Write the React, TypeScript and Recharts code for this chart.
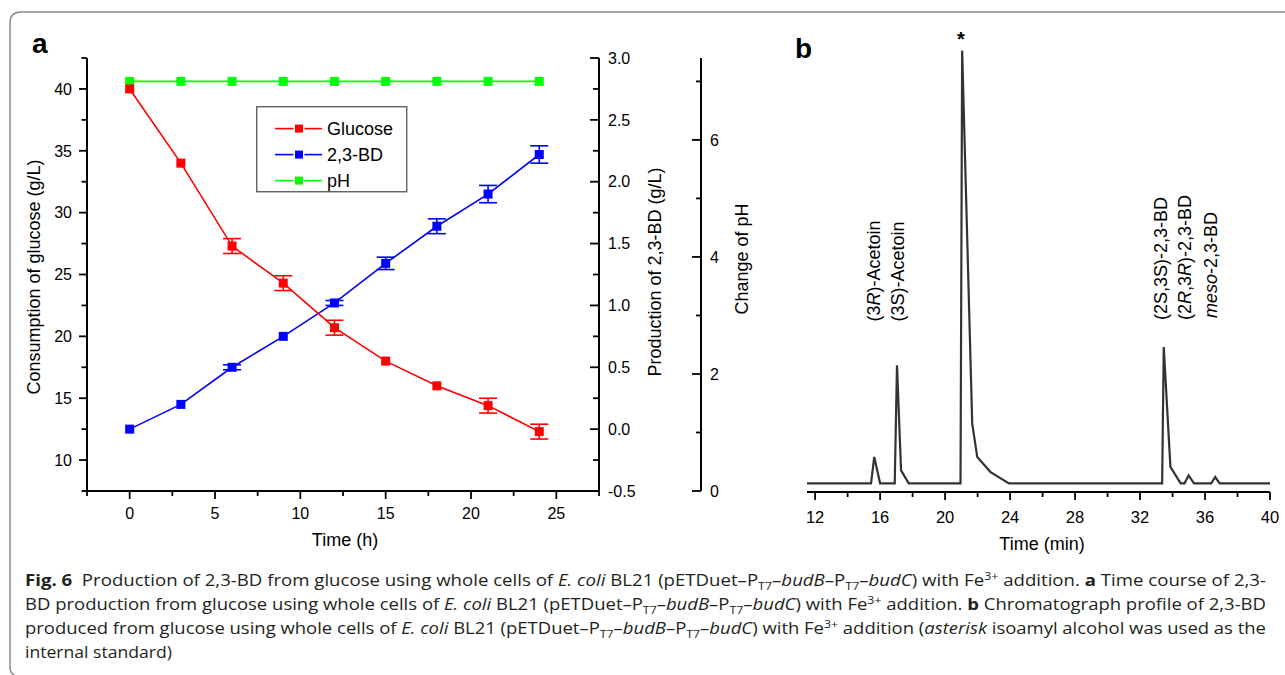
import React from 'react';
import { ComposedChart, LineChart, Line, XAxis, YAxis, ErrorBar, Legend } from 'recharts';

// ---------- Panel a data ----------
const hours = [0, 3, 6, 9, 12, 15, 18, 21, 24];
const glucose = [40.0, 34.0, 27.3, 24.3, 20.7, 18.0, 16.0, 14.4, 12.3];
const glucoseErr = [0, 0, 0.6, 0.6, 0.6, 0, 0, 0.6, 0.6];
const butanediol = [0.0, 0.2, 0.5, 0.75, 1.02, 1.34, 1.64, 1.9, 2.22];
const butanediolErr = [0, 0, 0.02, 0, 0.02, 0.05, 0.06, 0.07, 0.07];
const phValues = [7, 7, 7, 7, 7, 7, 7, 7, 7];

const timeTicks = [-2.5, 0, 2.5, 5, 7.5, 10, 12.5, 15, 17.5, 20, 22.5, 25, 27.5];
const glucoseTicks = [7.5, 10, 12.5, 15, 17.5, 20, 22.5, 25, 27.5, 30, 32.5, 35, 37.5, 40, 42.5];
const bdTicks = [-0.5, -0.25, 0, 0.25, 0.5, 0.75, 1, 1.25, 1.5, 1.75, 2, 2.25, 2.5, 2.75, 3];
const phTicks = [0, 1, 2, 3, 4, 5, 6, 7];

const seriesNames = ['Glucose', '2,3-BD', 'pH'];
const seriesColors = ['#ff0000', '#0000ff', '#00ff00'];

// ---------- Panel b data ----------
const chromTime = [11.5, 15.44, 15.64, 16.0, 16.9, 17.04, 17.29, 17.76, 20.95, 21.05, 21.67, 21.98, 22.8, 23.93, 33.36, 33.46, 33.87, 34.5, 34.74, 34.99, 35.32, 36.38, 36.63, 36.9, 40];
const chromSignal = [0, 0, 6.1, 0, 0, 27.3, 3.0, 0, 0, 100, 13.8, 6.1, 2.6, 0, 0, 31.5, 3.8, 0, 0, 1.85, 0, 0, 1.46, 0, 0];
const minuteTicks = [12, 14, 16, 18, 20, 22, 24, 26, 28, 30, 32, 34, 36, 38, 40];

// ---------- Caption ----------
type Seg = { t: string; k: 'n' | 'i' | 'b' | 'sub' | 'sup' };
const S = (t: string, k: Seg['k'] = 'n'): Seg => ({ t, k });
const construct = [S(' BL21 (pETDuet–P'), S('T7', 'sub'), S('–'), S('budB', 'i'), S('–P'), S('T7', 'sub'), S('–'), S('budC', 'i'), S(') with Fe'), S('3+', 'sup')];
const captionLines: Seg[][] = [
  [S('Fig. 6', 'b'), S('  Production of 2,3-BD from glucose using whole cells of '), S('E. coli', 'i'), ...construct, S(' addition. '), S('a', 'b'), S(' Time course of 2,3-')],
  [S('BD production from glucose using whole cells of '), S('E. coli', 'i'), ...construct, S(' addition. '), S('b', 'b'), S(' Chromatograph profile of 2,3-BD')],
  [S('produced from glucose using whole cells of '), S('E. coli', 'i'), ...construct, S(' addition ('), S('asterisk', 'i'), S(' isoamyl alcohol was used as the')],
  [S('internal standard)')],
];
const captionWidths = [1241, 1241, 1241, 147];

const FONT = '"Liberation Sans", Arial, Helvetica, sans-serif';
const CAP_FONT = '"Open Sans", "Noto Sans", sans-serif';

const rowsA = hours.map((t, i) => ({
  t,
  glucose: glucose[i],
  gErr: glucoseErr[i],
  bd: butanediol[i],
  bErr: butanediolErr[i],
  ph: phValues[i],
}));
const rowsB = chromTime.map((t, i) => ({ t, s: chromSignal[i] }));

const isMult = (v: number, m: number) => Math.abs(v / m - Math.round(v / m)) < 1e-6;

function LeftTick(props: any) {
  const { x, y, payload } = props;
  const v = payload.value;
  const major = isMult(v, 5);
  return (
    <g>
      <line x1={x - (major ? 8 : 5.5)} x2={x} y1={y} y2={y} stroke="#000" strokeWidth={1.8} />
      {major && (
        <text x={x - 15} y={y} dy="0.36em" textAnchor="end" fontSize={16} fontFamily={FONT} fill="#000">
          {v}
        </text>
      )}
    </g>
  );
}

function BdTick(props: any) {
  const { x, y, payload } = props;
  const v = payload.value;
  const major = isMult(v, 0.5);
  return (
    <g>
      <line x1={x - (major ? 9 : 6)} x2={x} y1={y} y2={y} stroke="#000" strokeWidth={1.8} />
      {major && (
        <text x={x + 9} y={y} dy="0.36em" textAnchor="start" fontSize={16} fontFamily={FONT} fill="#000">
          {v.toFixed(1)}
        </text>
      )}
    </g>
  );
}

function PhTick(props: any) {
  const { x, y, payload } = props;
  const v = payload.value;
  const major = isMult(v, 2);
  return (
    <g>
      <line x1={x - (major ? 9 : 5)} x2={x} y1={y} y2={y} stroke="#000" strokeWidth={1.8} />
      {major && (
        <text x={x + 9} y={y} dy="0.36em" textAnchor="start" fontSize={16} fontFamily={FONT} fill="#000">
          {v}
        </text>
      )}
    </g>
  );
}

function TimeTick(props: any) {
  const { x, y, payload } = props;
  const v = payload.value;
  const major = isMult(v, 5);
  return (
    <g>
      <line x1={x} x2={x} y1={y} y2={y + (major ? 8 : 5)} stroke="#000" strokeWidth={1.8} />
      {major && (
        <text x={x} y={y + 28} textAnchor="middle" fontSize={16} fontFamily={FONT} fill="#000">
          {v}
        </text>
      )}
    </g>
  );
}

function MinuteTick(props: any) {
  const { x, y, payload } = props;
  const v = payload.value;
  const major = isMult(v - 12, 4);
  return (
    <g>
      <line x1={x} x2={x} y1={y} y2={y + (major ? 8 : 5)} stroke="#000" strokeWidth={1.8} />
      {major && (
        <text x={x} y={y + 31} textAnchor="middle" fontSize={16.5} fontFamily={FONT} fill="#000">
          {v}
        </text>
      )}
    </g>
  );
}

function AxisTitle(props: any) {
  const { px, py, text, vertical } = props;
  return (
    <text
      x={px}
      y={py}
      transform={vertical ? `rotate(-90 ${px} ${py})` : undefined}
      textAnchor="middle"
      fontSize={18}
      fontFamily={FONT}
      fill="#000"
    >
      {text}
    </text>
  );
}

function squareDot(color: string, prefix: string) {
  return (p: any) => (
    <rect key={`${prefix}${p.index}`} x={p.cx - 4.5} y={p.cy - 4.5} width={9} height={9} fill={color} />
  );
}

function LegendBox() {
  return (
    <svg width={152} height={87} style={{ display: 'block' }}>
      <rect x={0.75} y={0.75} width={150} height={85} fill="#fff" stroke="#555" strokeWidth={1.3} />
      {seriesNames.map((n, i) => {
        const cy = 22.6 + i * 26;
        const c = seriesColors[i];
        return (
          <g key={n}>
            <line x1={19} x2={37.5} y1={cy} y2={cy} stroke={c} strokeWidth={1.6} />
            <line x1={48.5} x2={66} y1={cy} y2={cy} stroke={c} strokeWidth={1.6} />
            <rect x={39} y={cy - 4} width={8} height={8} fill={c} />
            <text x={71} y={cy} dy="0.36em" fontSize={18} fontFamily={FONT} fill="#000">
              {n}
            </text>
          </g>
        );
      })}
    </svg>
  );
}

function renderSegs(segs: Seg[]) {
  let shift = 0;
  return segs.map((s, i) => {
    const target = s.k === 'sub' ? 4 : s.k === 'sup' ? -6 : 0;
    const dy = target - shift;
    shift = target;
    return (
      <tspan
        key={i}
        dy={dy !== 0 ? dy : undefined}
        fontStyle={s.k === 'i' ? 'italic' : undefined}
        fontWeight={s.k === 'b' ? 'bold' : undefined}
        fontSize={s.k === 'sub' || s.k === 'sup' ? 11 : undefined}
      >
        {s.t}
      </tspan>
    );
  });
}

function RotLabel(props: { x: number; y: number; children: React.ReactNode }) {
  return (
    <text
      transform={`translate(${props.x},${props.y}) rotate(-90)`}
      x={0}
      y={0}
      fontSize={18}
      fontFamily={FONT}
      fill="#000"
      style={{ whiteSpace: 'pre' }}
    >
      {props.children}
    </text>
  );
}

export default function App() {
  return (
    <div
      style={{
        position: 'absolute',
        left: 0,
        top: 0,
        width: 1285,
        height: 675,
        background: '#fff',
        overflow: 'hidden',
        fontFamily: FONT,
      }}
    >
      {/* frame + caption */}
      <svg width={1285} height={675} style={{ position: 'absolute', left: 0, top: 0 }}>
        <path
          d="M1285 12 L21 12 Q10 12 10 23 L10 667 Q10 674 16 676"
          fill="none"
          stroke="#8a8a8a"
          strokeWidth={1.5}
        />
        {captionLines.map((segs, i) => (
          <text
            key={i}
            x={25}
            y={586 + i * 24}
            textLength={captionWidths[i]}
            lengthAdjust="spacingAndGlyphs"
            fontSize={16.5}
            fontFamily={CAP_FONT}
            fill="#231f20"
            style={{ whiteSpace: 'pre' }}
          >
            {renderSegs(segs)}
          </text>
        ))}
      </svg>

      {/* panel a */}
      <div style={{ position: 'absolute', left: 0, top: 0 }}>
        <ComposedChart width={780} height={560} data={rowsA} margin={{ top: 58, right: 19, bottom: 39, left: 0 }}>
          <XAxis
            dataKey="t"
            type="number"
            domain={[-2.5, 27.5]}
            ticks={timeTicks}
            interval={0}
            allowDataOverflow
            height={30}
            tickLine={false}
            tickSize={0}
            tickMargin={0}
            tick={<TimeTick />}
            axisLine={{ stroke: '#000', strokeWidth: 2 }}
            label={<AxisTitle px={345} py={546} text="Time (h)" />}
          />
          <YAxis
            yAxisId="g"
            orientation="left"
            type="number"
            domain={[7.5, 42.5]}
            ticks={glucoseTicks}
            interval={0}
            allowDataOverflow
            width={87}
            tickLine={false}
            tickSize={0}
            tickMargin={0}
            tick={<LeftTick />}
            axisLine={{ stroke: '#000', strokeWidth: 2 }}
            label={<AxisTitle px={39.6} py={277} vertical text="Consumption of glucose (g/L)" />}
          />
          <YAxis
            yAxisId="bd"
            orientation="right"
            type="number"
            domain={[-0.5, 3]}
            ticks={bdTicks}
            interval={0}
            allowDataOverflow
            width={102}
            tickLine={false}
            tickSize={0}
            tickMargin={0}
            tick={<BdTick />}
            axisLine={{ stroke: '#000', strokeWidth: 2 }}
            label={<AxisTitle px={661} py={272} vertical text="Production of 2,3-BD (g/L)" />}
          />
          <YAxis
            yAxisId="ph"
            orientation="right"
            type="number"
            domain={[0, 7.4]}
            ticks={phTicks}
            interval={0}
            allowDataOverflow
            width={60}
            tickLine={false}
            tickSize={0}
            tickMargin={0}
            tick={<PhTick />}
            axisLine={{ stroke: '#000', strokeWidth: 2 }}
            label={<AxisTitle px={748} py={259} vertical text="Change of pH" />}
          />
          <Legend
            layout="vertical"
            align="center"
            verticalAlign="middle"
            wrapperStyle={{ left: 256, top: 106, width: 152, height: 87 }}
            content={() => <LegendBox />}
          />
          <Line
            yAxisId="ph"
            dataKey="ph"
            name="pH"
            stroke={seriesColors[2]}
            strokeWidth={1.6}
            type="linear"
            dot={squareDot(seriesColors[2], 'p')}
            isAnimationActive={false}
          />
          <Line
            yAxisId="bd"
            dataKey="bd"
            name="2,3-BD"
            stroke={seriesColors[1]}
            strokeWidth={1.6}
            type="linear"
            dot={squareDot(seriesColors[1], 'b')}
            isAnimationActive={false}
          >
            <ErrorBar dataKey="bErr" width={9} stroke={seriesColors[1]} strokeWidth={1.6} direction="y" isAnimationActive={false} />
          </Line>
          <Line
            yAxisId="g"
            dataKey="glucose"
            name="Glucose"
            stroke={seriesColors[0]}
            strokeWidth={1.6}
            type="linear"
            dot={squareDot(seriesColors[0], 'g')}
            isAnimationActive={false}
          >
            <ErrorBar dataKey="gErr" width={9} stroke={seriesColors[0]} strokeWidth={1.6} direction="y" isAnimationActive={false} />
          </Line>
        </ComposedChart>
      </div>

      {/* panel b */}
      <div style={{ position: 'absolute', left: 780, top: 0 }}>
        <LineChart width={505} height={560} data={rowsB} margin={{ top: 42, right: 15, bottom: 38, left: 27 }}>
          <XAxis
            dataKey="t"
            type="number"
            domain={[11.5, 40]}
            ticks={minuteTicks}
            interval={0}
            allowDataOverflow
            height={30}
            tickLine={false}
            tickSize={0}
            tickMargin={0}
            tick={<MinuteTick />}
            axisLine={{ stroke: '#000', strokeWidth: 2 }}
            label={<AxisTitle px={262} py={549.5} text="Time (min)" />}
          />
          <YAxis type="number" domain={[-2, 102]} allowDataOverflow hide />
          <Line
            dataKey="s"
            type="linear"
            stroke="#333333"
            strokeWidth={2.2}
            dot={false}
            isAnimationActive={false}
          />
        </LineChart>
      </div>

      {/* annotations */}
      <svg width={1285} height={675} style={{ position: 'absolute', left: 0, top: 0, pointerEvents: 'none' }}>
        <text x={32} y={53} fontSize={28} fontWeight="bold" fontFamily={FONT} fill="#000">a</text>
        <text x={795} y={58} fontSize={28} fontWeight="bold" fontFamily={FONT} fill="#000">b</text>
        <text x={961} y={46} textAnchor="middle" fontSize={20} fontWeight="bold" fontFamily={FONT} fill="#000">*</text>
        <RotLabel x={880} y={321.5}>
          (3<tspan fontStyle="italic">R</tspan>)-Acetoin
        </RotLabel>
        <RotLabel x={903.5} y={321.5}>(3S)-Acetoin</RotLabel>
        <RotLabel x={1167} y={320}>(2S,3S)-2,3-BD</RotLabel>
        <RotLabel x={1191} y={320}>
          (2<tspan fontStyle="italic">R</tspan>,3<tspan fontStyle="italic">R</tspan>)-2,3-BD
        </RotLabel>
        <RotLabel x={1217} y={318}>
          <tspan fontStyle="italic">meso</tspan>-2,3-BD
        </RotLabel>
      </svg>
    </div>
  );
}
